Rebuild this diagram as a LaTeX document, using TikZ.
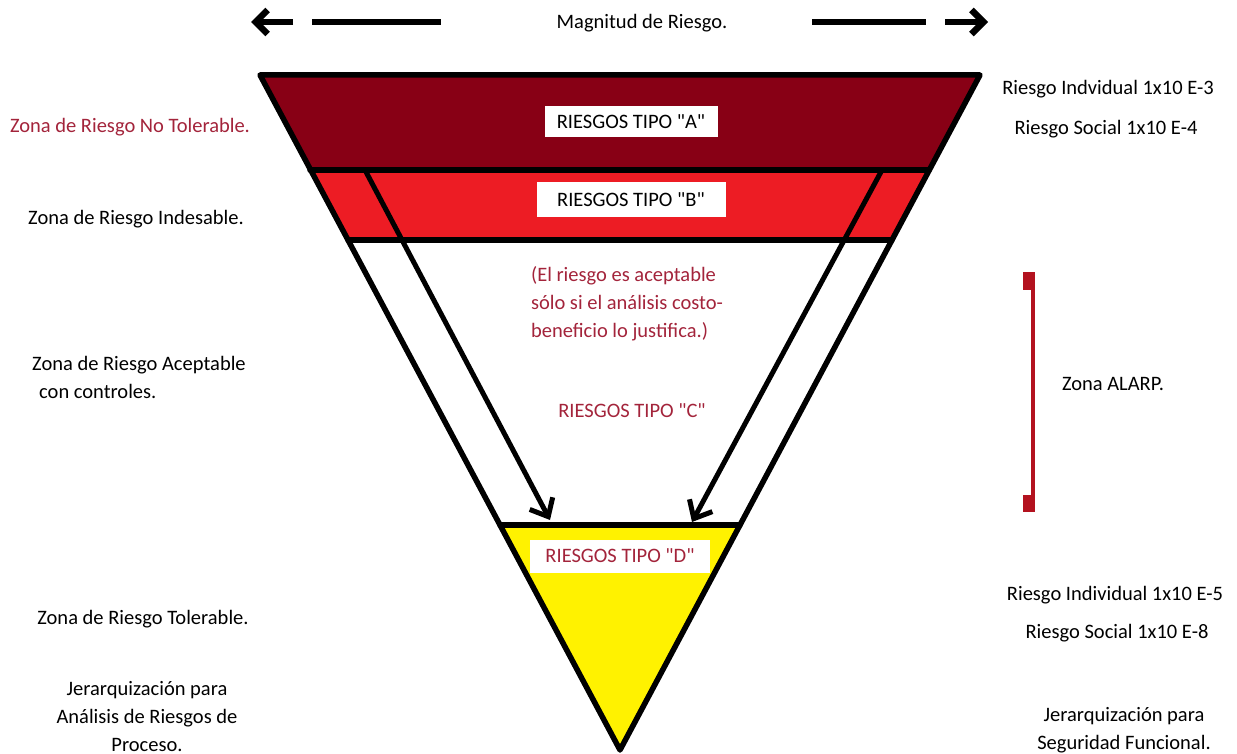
\documentclass[tikz,border=0pt]{standalone}
\usepackage{fontspec}
\setmainfont{Carlito}[Ligatures=TeXOff]
\usetikzlibrary{arrows.meta}
\definecolor{bandA}{HTML}{880015}
\definecolor{bandB}{HTML}{ED1C24}
\definecolor{bandD}{HTML}{FFF200}
\definecolor{txtred}{HTML}{A3243B}
\definecolor{brk}{HTML}{B3121F}
\begin{document}
\begin{tikzpicture}[x=1pt,y=-1pt,
  lbl/.style={inner sep=0pt, font=\fontsize{20.5}{28}\selectfont, align=center},
  redlbl/.style={lbl, text=txtred},
  tag/.style={fill=white, inner sep=0pt, font=\fontsize{20.5}{24}\selectfont},
  edge/.style={line width=5.5pt, line cap=round, line join=round},
  inarrow/.style={line width=5pt, -{Straight Barb[length=15pt,width=26pt,line width=5pt]}},
  toparrow/.style={line width=6pt, -{Straight Barb[length=12pt,width=24pt,line width=6.5pt]}}]
\useasboundingbox (0,0) rectangle (1237,754);

% corner points of the inverted triangle and its bands
\coordinate (TL) at (260,75);
\coordinate (TR) at (980,75);
\coordinate (AL) at (310,170);
\coordinate (AR) at (929,170);
\coordinate (BL) at (348,240);
\coordinate (BR) at (892,240);
\coordinate (DL) at (500,525);
\coordinate (DR) at (740,525);
\coordinate (AP) at (620,750);

% band fills
\fill[bandA] (TL) -- (TR) -- (AR) -- (AL) -- cycle;
\fill[bandB] (AL) -- (AR) -- (BR) -- (BL) -- cycle;
\fill[bandD] (DL) -- (DR) -- (AP) -- cycle;

% outline and band separators
\draw[edge] (TL) -- (TR) -- (AP) -- cycle;
\draw[edge] (AL) -- (AR);
\draw[edge] (BL) -- (BR);
\draw[edge] (DL) -- (DR);

% inner arrows down to the tolerable zone
\coordinate (ILs) at (365,170);
\coordinate (ILe) at (550,520);
\coordinate (IRs) at (882,170);
\coordinate (IRe) at (692,522);
\draw[inarrow] (ILs) -- (ILe);
\draw[inarrow] (IRs) -- (IRe);

% band labels
\node[tag, minimum width=173pt, minimum height=31pt] (tA) at (631,122) {RIESGOS TIPO "A"};
\node[tag, minimum width=189pt, minimum height=35pt] (tB) at (631,200) {RIESGOS TIPO "B"};
\node[tag, text=txtred, minimum width=180pt, minimum height=33pt] (tD) at (620,556) {RIESGOS TIPO "D"};
\node[redlbl] (tC) at (632,411) {RIESGOS TIPO "C"};
\node[redlbl, align=left] (note) at (627,304) {(El riesgo es aceptable\\sólo si el análisis costo-\\beneficio lo justifica.)};

% magnitude scale
\node[lbl] (mag) at (642,23) {Magnitud de Riesgo.};
\coordinate (LAs) at (293,22);
\coordinate (LAe) at (251,22);
\coordinate (LDs) at (312,22);
\coordinate (LDe) at (441,22);
\coordinate (RDs) at (812,22);
\coordinate (RDe) at (926,22);
\coordinate (RAs) at (945,22);
\coordinate (RAe) at (988,22);
\draw[toparrow] (LAs) -- (LAe);
\draw[line width=6pt] (LDs) -- (LDe);
\draw[line width=6pt] (RDs) -- (RDe);
\draw[toparrow] (RAs) -- (RAe);

% left-hand zone names
\node[redlbl] (z1) at (130,127) {Zona de Riesgo No Tolerable.};
\node[lbl] (z2) at (136,219) {Zona de Riesgo Indesable.};
\node[lbl, align=left, anchor=north west] (z3) at (32,356) {Zona de Riesgo Aceptable\\\hspace*{7pt}con controles.};
\node[lbl] (z4) at (143,619) {Zona de Riesgo Tolerable.};
\node[lbl, anchor=north] (j1) at (147,681) {Jerarquización para\\Análisis de Riesgos de\\Proceso.};

% right-hand criteria
\node[lbl] (r1) at (1108,89) {Riesgo Indvidual 1x10 E-3};
\node[lbl] (r2) at (1106,129) {Riesgo Social 1x10 E-4};
\node[lbl] (r3) at (1115,595) {Riesgo Individual 1x10 E-5};
\node[lbl] (r4) at (1117,633) {Riesgo Social 1x10 E-8};
\node[lbl, anchor=north] (j2) at (1124,707) {Jerarquización para\\Seguridad Funcional.};

% ALARP bracket
\node[lbl] (alarp) at (1113,384) {Zona ALARP.};
\fill[brk] (1030.5,272) rectangle (1035,512);
\fill[brk] (1023,272) rectangle (1035,290);
\fill[brk] (1023,495) rectangle (1035,512);
\end{tikzpicture}
\end{document}
